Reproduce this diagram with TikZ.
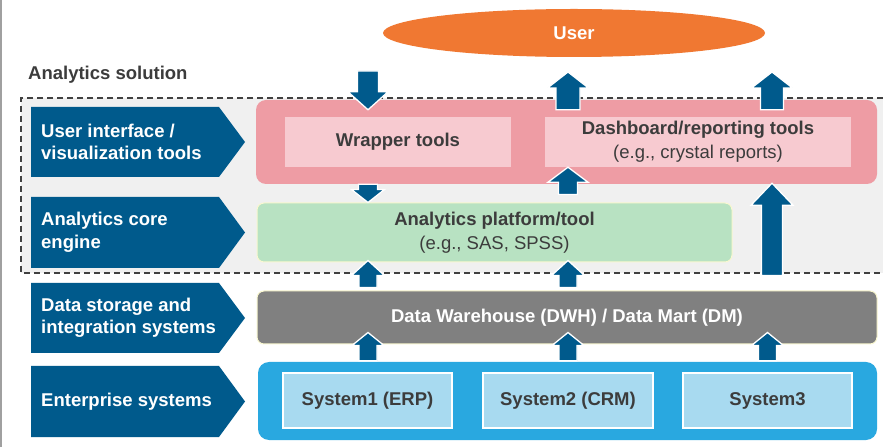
\documentclass[tikz,border=0pt]{standalone}
\usepackage{fontspec}
\setmainfont{Liberation Sans}
\usetikzlibrary{calc,shapes.geometric}
\definecolor{arrowblue}{HTML}{005A8C}
\definecolor{pinkout}{HTML}{EE9CA4}
\definecolor{pinkin}{HTML}{F7CAD0}
\definecolor{greenbox}{HTML}{B8E2C2}
\definecolor{graybox}{HTML}{808080}
\definecolor{blueout}{HTML}{29A8E0}
\definecolor{bluein}{HTML}{A8DAF0}
\definecolor{orangeuser}{HTML}{F07832}
\definecolor{bgpanel}{HTML}{F0F0F0}
\definecolor{darktext}{HTML}{3C3C3C}
\definecolor{dashcol}{HTML}{404040}
\definecolor{paleyellow}{HTML}{FAF8D0}
\definecolor{leftline}{HTML}{A0A0A0}
% block arrow from #1 (tail) to #2 (tip); #3 shaft half width, #4 head half width, #5 head length
\newcommand\myblkarrow[5]{%
  \path[blkstyle] let \p1=(#1), \p2=(#2), \n1={ifthenelse(\y2>\y1,1,-1)} in
      ({\x1-#3},\y1) -- ({\x1-#3},{\y2-\n1*#5}) -- ({\x1-#4},{\y2-\n1*#5}) -- (\x1,\y2)
      -- ({\x1+#4},{\y2-\n1*#5}) -- ({\x1+#3},{\y2-\n1*#5}) -- ({\x1+#3},\y1) -- cycle;}
\begin{document}
\begin{tikzpicture}[x=1pt,y=1pt,
  bigfont/.style={font=\fontsize{18.5}{22.5}\selectfont\bfseries},
  lbl/.style={text=white, font=\fontsize{18.5}{22.5}\selectfont\bfseries, align=left, anchor=west, inner sep=0pt},
  layer/.style={inner sep=0pt, align=center, text=darktext, font=\fontsize{18.5}{24}\selectfont},
  blkstyle/.style={draw=white, line width=1.3pt, fill=arrowblue},
  chevron/.style={fill=arrowblue}
]
\useasboundingbox (0,0) rectangle (883,447);
\fill[white] (0,0) rectangle (883,447);
% left border line
\draw[leftline, line width=1.5pt] (1,0) -- (1,447);

% analytics solution panel
\fill[bgpanel] (21,174) rectangle (883,349);
\draw[dashcol, line width=1.8pt, dash pattern=on 6pt off 4pt] (883,349) -- (21,349) -- (21,174) -- (883,174);
\node[anchor=base west, inner sep=0pt, text=darktext, bigfont] (soltitle) at (28,367) {Analytics solution};

% user
\node[ellipse, fill=orangeuser, minimum width=382pt, minimum height=48pt, inner sep=0pt,
      text=white, bigfont] (user) at (574,414) {User};

% left chevrons
\fill[chevron] (31,340) -- (219,340) -- (245,305) -- (219,270) -- (31,270) -- cycle;
\node[lbl] (l1) at (41,305) {User interface /\\visualization tools};
\fill[chevron] (31,250) -- (219,250) -- (245,214.5) -- (219,179) -- (31,179) -- cycle;
\node[lbl] (l2) at (41,214.5) {Analytics core\\engine};
\fill[chevron] (31,164) -- (219,164) -- (245,129) -- (219,94) -- (31,94) -- cycle;
\node[lbl] (l3) at (41,129) {Data storage and\\integration systems};
\fill[chevron] (31,81) -- (219,81) -- (245,45.5) -- (219,10) -- (31,10) -- cycle;
\node[lbl] (l4) at (41,45.5) {Enterprise systems};

% UI layer
\node[fill=pinkout, rounded corners=10pt, minimum width=621pt, minimum height=84pt, inner sep=0pt] (pink) at (566.5,305) {};
\node[layer, fill=pinkin, minimum width=226pt, minimum height=50pt] (wrap) at (398,305) {\bfseries Wrapper tools};
\node[layer, fill=pinkin, minimum width=306pt, minimum height=50pt] (dash) at (698,305) {\bfseries Dashboard/reporting tools\\(e.g., crystal reports)};

% analytics core
\node[layer, fill=greenbox, draw=paleyellow, line width=1pt, rounded corners=7pt, minimum width=475pt, minimum height=59pt] (green) at (494.5,214.5) {\bfseries Analytics platform/tool\\(e.g., SAS, SPSS)};

% data storage
\node[layer, fill=graybox, draw=paleyellow, line width=1pt, rounded corners=7pt, minimum width=620pt, minimum height=53pt, text=white] (dwh) at (567,129.5) {\bfseries Data Warehouse (DWH) / Data Mart (DM)};

% enterprise systems
\node[fill=blueout, rounded corners=11pt, minimum width=619pt, minimum height=78pt, inner sep=0pt] (ent) at (567.5,46) {};
\node[layer, fill=bluein, draw=white, line width=1.3pt, minimum width=169pt, minimum height=55pt] (s1) at (367.5,46.5) {\bfseries System1 (ERP)};
\node[layer, fill=bluein, draw=white, line width=1.3pt, minimum width=170pt, minimum height=55pt] (s2) at (568,46.5) {\bfseries System2 (CRM)};
\node[layer, fill=bluein, draw=white, line width=1.3pt, minimum width=169pt, minimum height=55pt] (s3) at (767.5,46.5) {\bfseries System3};

% free ends near user
\coordinate (uA) at (368,376);
\coordinate (uB) at (568,375);
\coordinate (uC) at (772,375);

% block arrows
\myblkarrow{uA}{$(pink.north -| uA)+(0,-10)$}{10.5}{20}{18}
\myblkarrow{$(pink.north -| uB)+(0,-10)$}{uB}{12}{20.5}{16}
\myblkarrow{$(pink.north -| uC)+(0,-10)$}{uC}{11.5}{20.5}{16}
\myblkarrow{pink.south -| uA}{green.north -| uA}{9.5}{16.5}{13}
\myblkarrow{$(green.north -| uB)+(0,8)$}{dash.south -| uB}{9.5}{20}{15}
\myblkarrow{$(dwh.north -| uC)+(0,15)$}{$(pink.south -| uC)+(0,1)$}{10.5}{21}{22}
\myblkarrow{$(dwh.north -| uA)+(0,3)$}{$(green.south -| uA)+(0,2)$}{9}{16.5}{15}
\myblkarrow{$(dwh.north -| uB)+(0,3)$}{$(green.south -| uB)+(0,2)$}{9}{16.5}{15}
\myblkarrow{$(ent.north -| uA)+(0,1)$}{$(dwh.south -| uA)+(0,12)$}{9}{16}{13}
\myblkarrow{$(ent.north -| uB)+(0,1)$}{$(dwh.south -| uB)+(0,12)$}{9}{16}{13}
\myblkarrow{$(ent.north -| s3)+(0,1)$}{$(dwh.south -| s3)+(0,12)$}{9}{16}{13}
\end{tikzpicture}
\end{document}
